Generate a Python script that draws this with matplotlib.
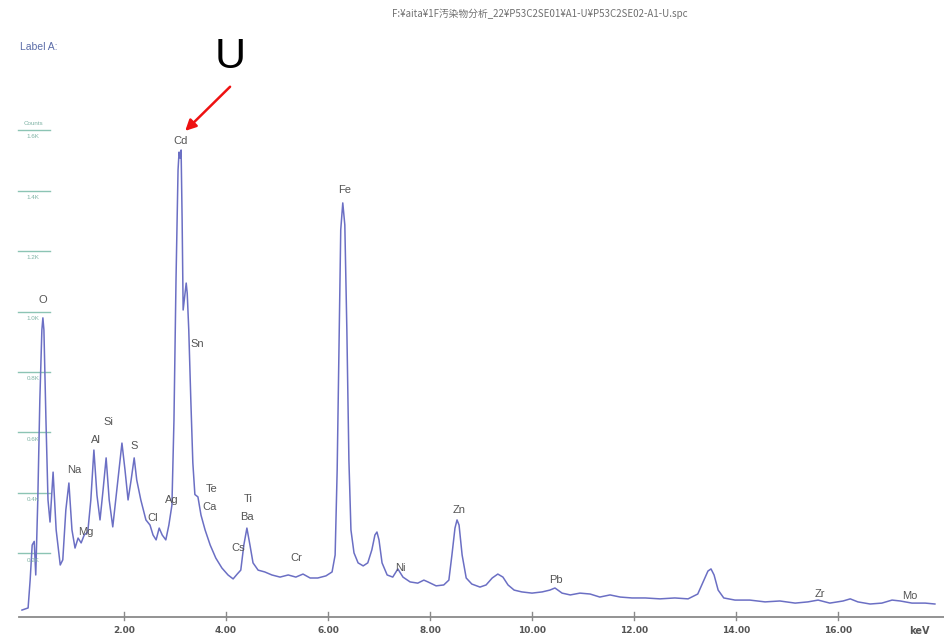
import matplotlib
matplotlib.use("Agg")
import matplotlib.pyplot as plt

# EDS spectrum (energy in keV, counts)
energy_kev = [0.00, 0.12, 0.16, 0.20, 0.24, 0.27, 0.31, 0.35, 0.39, 0.41, 0.43, 0.47, 0.51,
              0.55, 0.61, 0.67, 0.75, 0.80, 0.86, 0.92, 0.98, 1.04, 1.10, 1.16, 1.22, 1.29,
              1.35, 1.41, 1.47, 1.53, 1.59, 1.65, 1.71, 1.78, 1.86, 1.96, 2.02, 2.08, 2.14,
              2.20, 2.25, 2.33, 2.43, 2.51, 2.57, 2.63, 2.69, 2.75, 2.82, 2.88, 2.94, 2.98,
              3.02, 3.06, 3.08, 3.10, 3.12, 3.14, 3.16, 3.22, 3.24, 3.27, 3.31, 3.35, 3.39,
              3.45, 3.51, 3.59, 3.69, 3.80, 3.92, 4.04, 4.14, 4.22, 4.29, 4.35, 4.41, 4.47,
              4.53, 4.63, 4.76, 4.90, 5.06, 5.22, 5.37, 5.51, 5.65, 5.80, 5.96, 6.08, 6.14,
              6.18, 6.22, 6.25, 6.29, 6.33, 6.37, 6.41, 6.45, 6.51, 6.59, 6.69, 6.78, 6.86,
              6.92, 6.96, 7.00, 7.06, 7.16, 7.27, 7.37, 7.47, 7.61, 7.76, 7.88, 7.96, 8.12,
              8.27, 8.37, 8.43, 8.49, 8.53, 8.57, 8.63, 8.71, 8.82, 8.98, 9.10, 9.22, 9.33,
              9.43, 9.53, 9.65, 9.80, 10.00, 10.20, 10.35, 10.45, 10.59, 10.75, 10.94, 11.14,
              11.33, 11.53, 11.73, 11.96, 12.22, 12.51, 12.80, 13.06, 13.25, 13.37, 13.45,
              13.51, 13.57, 13.65, 13.76, 13.98, 14.27, 14.57, 14.86, 15.16, 15.41, 15.61,
              15.84, 16.10, 16.24, 16.39, 16.63, 16.86, 17.06, 17.22, 17.45, 17.71, 17.90]
counts = [13, 20, 112, 228, 240, 129, 377, 707, 939, 979, 939, 641, 377,
          304, 469, 278, 162, 179, 344, 433, 278, 218, 251, 235, 261, 271,
          377, 542, 393, 311, 410, 516, 377, 288, 410, 565, 476, 377, 443,
          516, 443, 377, 311, 294, 261, 245, 284, 261, 245, 294, 360, 641,
          1104, 1468, 1527, 1507, 1534, 1303, 1005, 1094, 1060, 940, 710, 500, 395,
          387, 327, 278, 228, 185, 152, 129, 116, 132, 145, 228, 284, 228,
          169, 145, 139, 129, 122, 129, 122, 132, 119, 119, 126, 139, 195,
          476, 939, 1270, 1359, 1286, 939, 509, 278, 202, 169, 159, 169, 212,
          261, 271, 245, 169, 129, 122, 149, 122, 106, 102, 112, 106, 93,
          96, 112, 195, 284, 311, 294, 195, 119, 99, 89, 96, 119, 132,
          122, 96, 79, 73, 69, 73, 79, 86, 69, 63, 69, 66,
          56, 63, 56, 53, 53, 50, 53, 50, 66, 112, 142,
          149, 129, 79, 53, 46, 46, 40, 43, 36, 40, 46,
          36, 43, 50, 40, 33, 36, 46, 43, 36, 36, 33]

# element labels and where they sit (keV, counts)
elements = ["O", "Na", "Mg", "Al", "Si", "S", "Cl", "Ag", "Cd", "Sn", "Te", "Ca", "Cs",
            "Ti", "Ba", "Cr", "Fe", "Ni", "Zn", "Pb", "Zr", "Mo"]
label_kev = [0.41, 1.02, 1.25, 1.45, 1.69, 2.20, 2.57, 2.94, 3.10, 3.43, 3.71, 3.67, 4.24,
             4.43, 4.41, 5.37, 6.33, 7.41, 8.57, 10.47, 15.65, 17.41]
label_counts = [1038, 476, 271, 575, 635, 555, 317, 377, 1564, 893, 413, 354, 218,
                380, 321, 185, 1402, 152, 344, 112, 66, 60]

x_ticks = [2, 4, 6, 8, 10, 12, 14, 16]
y_grid = [200, 400, 600, 800, 1000, 1200, 1400, 1600]
y_grid_labels = ["0.2K", "0.4K", "0.6K", "0.8K", "1.0K", "1.2K", "1.4K", "1.6K"]

fig = plt.figure(figsize=(9.45, 6.42), dpi=100)
ax = fig.add_axes([0, 0, 1, 1])
ax.set_xlim(-0.431, 18.098)
ax.set_ylim(-92.6, 2029.8)
ax.axis("off")

# short count markers on the left edge
grid_color = "#8cc4b4"
for y, lab in zip(y_grid, y_grid_labels):
    ax.plot([-0.08, 0.55], [y, y], color=grid_color, lw=1.0)
    ax.text(0.22, y - 14, lab, color="#7fb3a5", fontsize=4.5, ha="center", va="top",
            family="Liberation Sans")
ax.text(0.22, y_grid[-1] + 12, "Counts", color="#7fb3a5", fontsize=4.5, ha="center",
        va="bottom", family="Liberation Sans")

# spectrum
ax.plot(energy_kev, counts, color="#6b6fc4", lw=1.1)

# x axis
ax.plot([-0.06, 18.1], [-10, -10], color="#8a8a8a", lw=1.3)
for t in x_ticks:
    ax.plot([t, t], [8, -20], color="#8a8a8a", lw=1.0)
    ax.text(t, -55, f"{t:.2f}", ha="center", va="center", fontsize=6.5,
            fontweight="bold", color="#555555", family="Liberation Sans Narrow")
ax.text(17.6, -55, "keV", ha="center", va="center", fontsize=7, fontweight="bold",
        color="#555555", family="Liberation Sans Narrow")

# element labels
for name, xk, yc in zip(elements, label_kev, label_counts):
    ax.text(xk, yc, name, ha="center", va="center", fontsize=8, color="#555555",
            family="Liberation Sans")

# annotation pointing at the Cd peak
ax.annotate("", xy=(3.20, 1597), xytext=(4.08, 1743),
            arrowprops=dict(arrowstyle="-|>", color="#ee1111", lw=1.8,
                            mutation_scale=16, shrinkA=0, shrinkB=0))
ax.text(4.08, 1840, "U", ha="center", va="center", fontsize=31, color="black",
        family="Liberation Sans")

fig.text(20 / 945, 1 - 47 / 642, "Label A:", ha="left", va="center", fontsize=7.5,
         color="#5b6ca8", family="Liberation Sans")
fig.text(540 / 945, 1 - 14 / 642,
         "F:¥aita¥1F汚染物分析_22¥P53C2SE01¥A1-U¥P53C2SE02-A1-U.spc",
         ha="center", va="center", fontsize=7, color="#707070",
         family=["Noto Sans CJK JP", "DejaVu Sans"])

fig.savefig("out.png", dpi=100, facecolor="white")
